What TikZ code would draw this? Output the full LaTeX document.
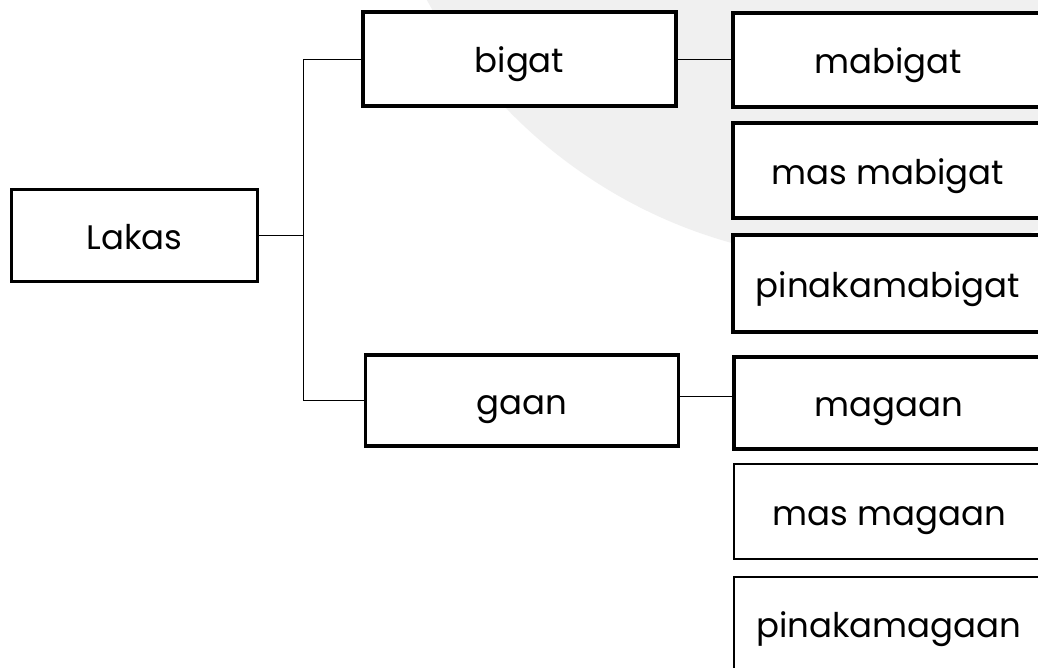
\documentclass[tikz,border=0pt]{standalone}
\usepackage{fontspec}
\setmainfont{Poppins}
\begin{document}
\begin{tikzpicture}[x=1pt,y=-1pt,
  box/.style={draw=black, line width=3.2pt, fill=white, inner sep=0pt,
    minimum width=310pt, minimum height=94pt,
    text height=30pt, text depth=3pt,
    font=\fontsize{34}{40}\selectfont},
  thinbox/.style={box, line width=2pt},
  conn/.style={draw=black, line width=1pt}]
\useasboundingbox[fill=white] (0,0) rectangle (1038,667);
% faint watermark seal
\begin{scope}
\clip (0,0) rectangle (1038,667);
\fill[black!6] (865,-237) circle (498pt);
\end{scope}
\node[box, minimum width=246pt, minimum height=92pt] (lakas) at (134.5,235.5) {Lakas};
\node[box, minimum width=313pt] (bigat) at (519.5,59) {bigat};
\node[box, minimum width=313pt, minimum height=91pt] (gaan) at (522,400.5) {gaan};
\node[box] (mabigat) at (888,60) {mabigat};
\node[box, minimum height=95pt] (masmabigat) at (888,170.5) {mas mabigat};
\node[box, minimum height=97pt] (pinakamabigat) at (888,283.5) {pinakamabigat};
\node[box, minimum height=92pt] (magaan) at (889,403) {magaan};
\node[thinbox, minimum height=95pt] (masmagaan) at (889,511.5) {mas magaan};
\node[thinbox] (pinakamagaan) at (889,624) {pinakamagaan};
\coordinate (top) at (303,59);
\coordinate (bot) at (303,400.5);
\coordinate (gr) at (706,396);
\draw[conn] (lakas.east) -- (lakas.east -| top);
\draw[conn] (top) -- (bot);
\draw[conn] (top) -- (bigat.west);
\draw[conn] (bot) -- (gaan.west);
\draw[conn] (bigat.east) -- (bigat.east -| mabigat.west);
\draw[conn] (gaan.east |- gr) -- (magaan.west |- gr);
\end{tikzpicture}
\end{document}
